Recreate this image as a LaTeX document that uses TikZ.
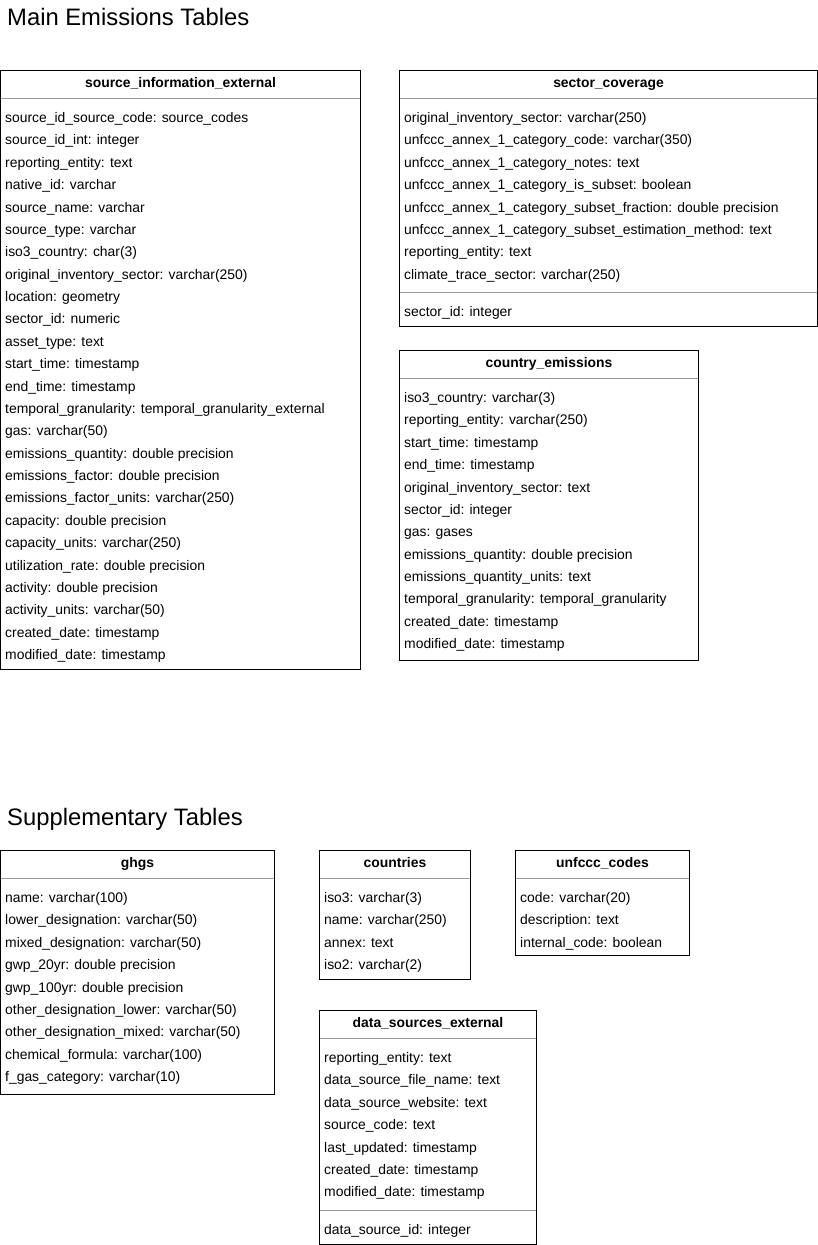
\documentclass[tikz,border=0pt]{standalone}
\usepackage{fontspec}
\setmainfont{Liberation Sans}
\begin{document}
\begin{tikzpicture}[x=1pt,y=-1pt,
  tablebox/.style={draw=black, line width=1pt, fill=white},
  sepline/.style={draw=black!40, line width=1pt},
  tabletitle/.style={inner sep=0pt, font=\fontsize{13.9}{16}\selectfont\bfseries, text height=12pt, text depth=1pt},
  rowtext/.style={inner sep=0pt, anchor=west, font=\fontsize{13.9}{16}\selectfont, text height=12pt, text depth=1pt},
  heading/.style={inner sep=0pt, anchor=west, font=\fontsize{23.8}{26}\selectfont, text height=19pt, text depth=3pt}]
\useasboundingbox (0,0) rectangle (818,1245);

% headings
\node[heading] (h1) at (7,17) {Main Emissions Tables};
\node[heading] (h2) at (7,817) {Supplementary Tables};

% source_information_external
\draw[tablebox] (0.5,70.5) rectangle (360.5,669.5);
\draw[sepline] (1,98.5) -- (360,98.5);
\node[tabletitle] (sie) at (180.5,82) {source\_information\_external};
\foreach \t [count=\i] in {source\_id\_source\_code: source\_codes, source\_id\_int: integer, reporting\_entity: text, native\_id: varchar, source\_name: varchar, source\_type: varchar, iso3\_country: char(3), original\_inventory\_sector: varchar(250), location: geometry, sector\_id: numeric, asset\_type: text, start\_time: timestamp, end\_time: timestamp, temporal\_granularity: temporal\_granularity\_external, gas: varchar(50), emissions\_quantity: double precision, emissions\_factor: double precision, emissions\_factor\_units: varchar(250), capacity: double precision, capacity\_units: varchar(250), utilization\_rate: double precision, activity: double precision, activity\_units: varchar(50), created\_date: timestamp, modified\_date: timestamp}
  \node[rowtext] (sie-\i) at (5,{117+22.375*(\i-1)}) {\t};

% sector_coverage
\draw[tablebox] (399.5,70.5) rectangle (817.5,326.5);
\draw[sepline] (400,98.5) -- (817,98.5);
\draw[sepline] (400,292.5) -- (817,292.5);
\node[tabletitle] (sc) at (608.5,82) {sector\_coverage};
\foreach \t [count=\i] in {original\_inventory\_sector: varchar(250), unfccc\_annex\_1\_category\_code: varchar(350), unfccc\_annex\_1\_category\_notes: text, unfccc\_annex\_1\_category\_is\_subset: boolean, unfccc\_annex\_1\_category\_subset\_fraction: double precision, unfccc\_annex\_1\_category\_subset\_estimation\_method: text, reporting\_entity: text, climate\_trace\_sector: varchar(250)}
  \node[rowtext] (sc-\i) at (404,{117+22.375*(\i-1)}) {\t};
\node[rowtext] (sc-pk) at (404,311) {sector\_id: integer};

% country_emissions
\draw[tablebox] (399.5,350.5) rectangle (698.5,660.5);
\draw[sepline] (400,378.5) -- (698,378.5);
\node[tabletitle] (ce) at (549,362) {country\_emissions};
\foreach \t [count=\i] in {iso3\_country: varchar(3), reporting\_entity: varchar(250), start\_time: timestamp, end\_time: timestamp, original\_inventory\_sector: text, sector\_id: integer, gas: gases, emissions\_quantity: double precision, emissions\_quantity\_units: text, temporal\_granularity: temporal\_granularity, created\_date: timestamp, modified\_date: timestamp}
  \node[rowtext] (ce-\i) at (404,{397+22.375*(\i-1)}) {\t};

% ghgs
\draw[tablebox] (0.5,850.5) rectangle (274.5,1094.5);
\draw[sepline] (1,878.5) -- (274,878.5);
\node[tabletitle] (ghgs) at (137.5,862) {ghgs};
\foreach \t [count=\i] in {name: varchar(100), lower\_designation: varchar(50), mixed\_designation: varchar(50), gwp\_20yr: double precision, gwp\_100yr: double precision, other\_designation\_lower: varchar(50), other\_designation\_mixed: varchar(50), chemical\_formula: varchar(100), f\_gas\_category: varchar(10)}
  \node[rowtext] (ghgs-\i) at (5,{897+22.375*(\i-1)}) {\t};

% countries
\draw[tablebox] (319.5,850.5) rectangle (470.5,979.5);
\draw[sepline] (320,878.5) -- (470,878.5);
\node[tabletitle] (countries) at (395,862) {countries};
\foreach \t [count=\i] in {iso3: varchar(3), name: varchar(250), annex: text, iso2: varchar(2)}
  \node[rowtext] (co-\i) at (324,{897+22.375*(\i-1)}) {\t};

% unfccc_codes
\draw[tablebox] (515.5,850.5) rectangle (689.5,955.5);
\draw[sepline] (516,878.5) -- (689,878.5);
\node[tabletitle] (uc) at (602.5,862) {unfccc\_codes};
\foreach \t [count=\i] in {code: varchar(20), description: text, internal\_code: boolean}
  \node[rowtext] (uc-\i) at (520,{897+22.375*(\i-1)}) {\t};

% data_sources_external
\draw[tablebox] (319.5,1010.5) rectangle (536.5,1244.5);
\draw[sepline] (320,1038.5) -- (536,1038.5);
\draw[sepline] (320,1210.5) -- (536,1210.5);
\node[tabletitle] (dse) at (428,1022) {data\_sources\_external};
\foreach \t [count=\i] in {reporting\_entity: text, data\_source\_file\_name: text, data\_source\_website: text, source\_code: text, last\_updated: timestamp, created\_date: timestamp, modified\_date: timestamp}
  \node[rowtext] (dse-\i) at (324,{1057+22.375*(\i-1)}) {\t};
\node[rowtext] (dse-pk) at (324,1229) {data\_source\_id: integer};
\end{tikzpicture}
\end{document}
